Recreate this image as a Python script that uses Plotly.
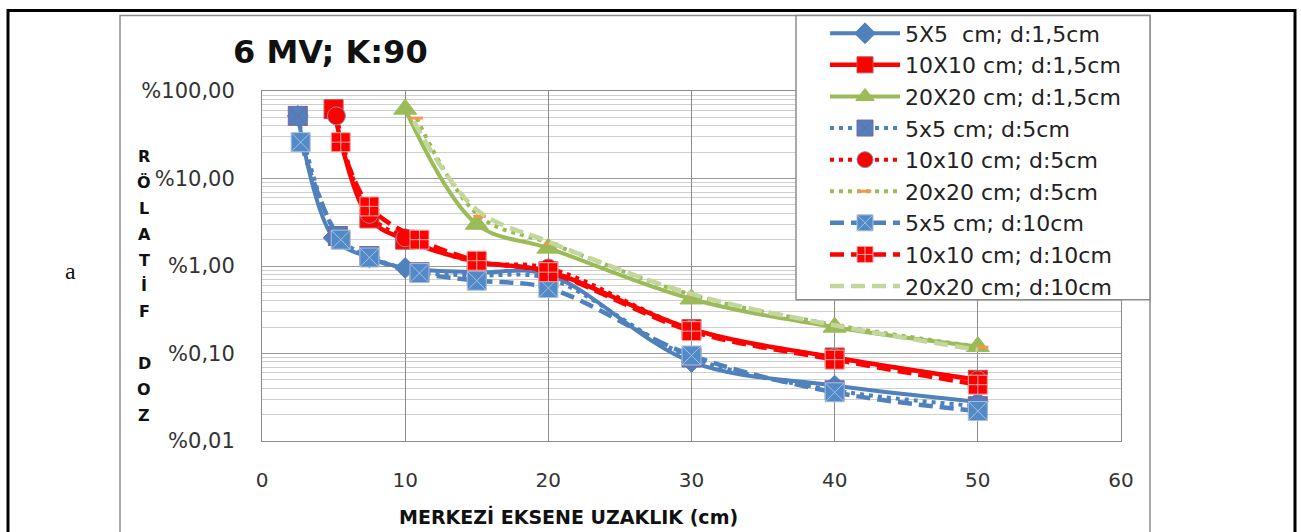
import plotly.graph_objects as go

# Distance from the central axis (cm) and relative dose (%) for each field / depth
x_5x5_d15 = [2.5, 5, 7.5, 10, 15, 20, 30, 40, 50]
y_5x5_d15 = [52, 2.1, 1.25, 0.95, 0.85, 0.8, 0.08, 0.043, 0.028]

x_10x10_d15 = [5, 7.5, 10, 15, 20, 30, 40, 50]
y_10x10_d15 = [62, 3.5, 2.0, 1.12, 0.87, 0.19, 0.09, 0.05]

x_20x20_d15 = [10, 15, 20, 30, 40, 50]
y_20x20_d15 = [62, 3.0, 1.6, 0.42, 0.2, 0.12]

x_5x5_d5 = [2.5, 5.3, 7.5, 11, 15, 20, 30, 40, 50]
y_5x5_d5 = [52, 2.2, 1.3, 0.85, 0.78, 0.72, 0.09, 0.038, 0.025]

x_10x10_d5 = [5.2, 7.5, 10, 15, 20, 30, 40, 50]
y_10x10_d5 = [52, 3.9, 2.1, 1.1, 0.95, 0.19, 0.09, 0.05]

x_20x20_d5 = [10.8, 15.2, 20.2, 30.2, 40.2, 50.3]
y_20x20_d5 = [49, 3.7, 1.8, 0.46, 0.21, 0.118]

x_5x5_d10 = [2.7, 5.5, 7.5, 11, 15, 20, 30, 40, 50]
y_5x5_d10 = [26, 2.0, 1.25, 0.83, 0.68, 0.56, 0.095, 0.036, 0.022]

x_10x10_d10 = [5.5, 7.5, 11, 15, 20, 30, 40, 50]
y_10x10_d10 = [26, 4.8, 2.0, 1.15, 0.85, 0.18, 0.085, 0.044]

x_20x20_d10 = [10.6, 15, 20, 30, 40, 50]
y_20x20_d10 = [45, 4.4, 1.9, 0.48, 0.21, 0.11]

y_tick_vals = [0.01, 0.1, 1, 10, 100]
y_tick_text = ["%0,01", "%0,10", "%1,00", "%10,00", "%100,00"]
x_tick_vals = [0, 10, 20, 30, 40, 50, 60]

y_title_letters = ["R", "Ö", "L", "A", "T", "İ", "F", "", "D", "O", "Z"]

BLUE = "#4F81BD"
RED = "#FF0000"
GREEN = "#9BBB59"
LIGHT_GREEN = "#C3D69B"
ORANGE = "#F79646"

W, H = 1301, 532
L, R, T, B = 262, 1121, 89, 441  # plot area in pixels


def px_x(p):
    return (p - L) / (R - L)


def px_y(p):
    return (B - p) / (B - T)


series = [
    dict(name="5X5  cm; d:1,5cm", x=x_5x5_d15, y=y_5x5_d15, color=BLUE, dash="solid", width=4,
         marker=dict(symbol="diamond", size=16, color=BLUE, line=dict(color=BLUE, width=1))),
    dict(name="10X10 cm; d:1,5cm", x=x_10x10_d15, y=y_10x10_d15, color=RED, dash="solid", width=4.5,
         marker=dict(symbol="square", size=19, color=RED, line=dict(color="#C0504D", width=1))),
    dict(name="20X20 cm; d:1,5cm", x=x_20x20_d15, y=y_20x20_d15, color=GREEN, dash="solid", width=4,
         marker=dict(symbol="triangle-up", size=20, color=GREEN, line=dict(color=GREEN, width=1))),
    dict(name="5x5 cm; d:5cm", x=x_5x5_d5, y=y_5x5_d5, color=BLUE, dash="4px,5px", width=4,
         marker=dict(symbol="square-x", size=19, color=BLUE, line=dict(color="#8064A2", width=1))),
    dict(name="10x10 cm; d:5cm", x=x_10x10_d5, y=y_10x10_d5, color=RED, dash="4px,5px", width=4,
         marker=dict(symbol="circle", size=18, color=RED, line=dict(color="#7F8FA6", width=1))),
    dict(name="20x20 cm; d:5cm", x=x_20x20_d5, y=y_20x20_d5, color=GREEN, dash="4px,5px", width=4,
         marker=dict(symbol="line-ew", size=9, color=ORANGE, line=dict(color=ORANGE, width=3))),
    dict(name="5x5 cm; d:10cm", x=x_5x5_d10, y=y_5x5_d10, color=BLUE, dash="14px,7px", width=4.5,
         marker=dict(symbol="square-x", size=19, color="#5289C7", line=dict(color="#A7BFDE", width=1))),
    dict(name="10x10 cm; d:10cm", x=x_10x10_d10, y=y_10x10_d10, color=RED, dash="14px,7px", width=4.5,
         marker=dict(symbol="square-cross", size=19, color=RED, line=dict(color="#F4AAAA", width=1))),
    dict(name="20x20 cm; d:10cm", x=x_20x20_d10, y=y_20x20_d10, color=LIGHT_GREEN, dash="14px,7px", width=4.5,
         marker=None),
]

fig = go.Figure()
for i, s in enumerate(series):
    kw = dict(
        x=s["x"], y=s["y"], name=s["name"], legendgroup=f"g{i}",
        line=dict(color=s["color"], dash=s["dash"], width=s["width"], shape="spline", smoothing=1),
    )
    if s["marker"] is None:
        kw["mode"] = "lines"
    else:
        kw["mode"] = "lines+markers"
        kw["marker"] = s["marker"]
    fig.add_trace(go.Scatter(**kw))

minor_vals = [m * 10 ** e for e in (-2, -1, 0, 1) for m in range(2, 10)]

fig.update_layout(
    width=W, height=H,
    margin=dict(l=L, r=W - R, t=T, b=H - B),
    paper_bgcolor="white", plot_bgcolor="white",
    font=dict(family="DejaVu Sans", color="#222222"),
    showlegend=True,
    legend=dict(
        x=px_x(825), xanchor="left", y=px_y(10), yanchor="top",
        bgcolor="rgba(0,0,0,0)", borderwidth=0,
        font=dict(family="DejaVu Sans", size=22, color="#222222"),
        itemwidth=70, tracegroupgap=0, maxheight=400,
    ),
    xaxis=dict(
        range=[0, 60], tickvals=x_tick_vals, showgrid=True, gridcolor="#8C8C8C", gridwidth=1,
        zeroline=False, showline=True, linecolor="#8C8C8C", mirror=True,
        ticks="", ticklabelstandoff=21,
        tickfont=dict(family="DejaVu Sans", size=20, color="#333333"),
    ),
    yaxis=dict(
        type="log", range=[-2, 2], tickvals=y_tick_vals, ticktext=y_tick_text,
        showgrid=True, gridcolor="#9A9A9A", gridwidth=1,
        minor=dict(tickvals=minor_vals, showgrid=True, gridcolor="#CFCFCF", gridwidth=1, ticks=""),
        zeroline=False, showline=True, linecolor="#8C8C8C", mirror=True,
        ticks="", ticklabelstandoff=22,
        tickfont=dict(family="DejaVu Sans", size=21, color="#333333"),
    ),
)

# Title, axis caption, panel letter and stacked y-axis caption
ann = [
    dict(text="<b>6 MV; K:90</b>", x=px_x(330), y=px_y(50), xref="paper", yref="paper",
         xanchor="center", yanchor="middle",
         showarrow=False, font=dict(family="DejaVu Sans", size=32, color="#111111")),
    dict(text="<b>MERKEZİ EKSENE UZAKLIK (cm)</b>", x=px_x(568), y=px_y(517), xref="paper", yref="paper",
         xanchor="center", yanchor="middle",
         showarrow=False, font=dict(family="DejaVu Sans", size=19, color="#111111")),
    dict(text="a", x=px_x(70), y=px_y(270), xref="paper", yref="paper",
         xanchor="center", yanchor="middle",
         showarrow=False, font=dict(family="Liberation Serif", size=24, color="#111111")),
]
for k, ch in enumerate(y_title_letters):
    if ch:
        ann.append(dict(text=f"<b>{ch}</b>", x=px_x(144), y=px_y(155 + 26 * k), xref="paper", yref="paper",
                        xanchor="center", yanchor="middle",
                        showarrow=False, font=dict(family="DejaVu Sans", size=16, color="#111111")))
fig.update_layout(annotations=ann)

# Outer frame, chart-area border and legend box
fig.update_layout(shapes=[
    dict(type="rect", xref="paper", yref="paper", x0=px_x(8), x1=px_x(1295), y0=px_y(545), y1=px_y(8),
         line=dict(color="black", width=3), layer="above"),
    dict(type="rect", xref="paper", yref="paper", x0=px_x(120), x1=px_x(1150), y0=px_y(545), y1=px_y(13),
         line=dict(color="#8C8C8C", width=1.5), layer="below"),
    dict(type="rect", xref="paper", yref="paper", x0=px_x(796), x1=px_x(1150), y0=px_y(299), y1=px_y(13),
         line=dict(color="#8C8C8C", width=1.5), fillcolor="white", layer="above"),
])

fig.write_html("out.html")
